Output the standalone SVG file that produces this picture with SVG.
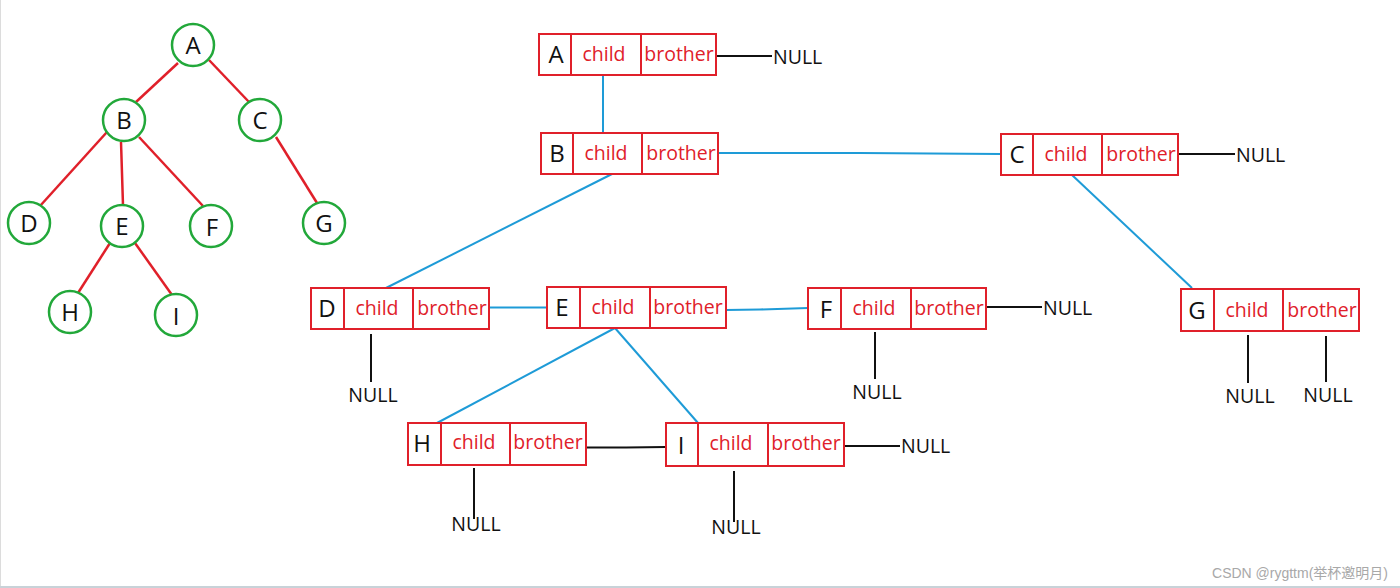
<svg xmlns="http://www.w3.org/2000/svg" width="1400" height="588" viewBox="0 0 1400 588">
<style>
.circ{fill:#fff;stroke:#22a83a;stroke-width:2.5}
.tl{font-family:"Open Sans","Noto Sans",sans-serif;font-size:24px;fill:#111;text-anchor:middle}
.te{stroke:#e0202a;stroke-width:2.5;fill:none}
.box{fill:#fff;stroke:#e0202a;stroke-width:2}
.lab{font-family:"Open Sans","Noto Sans",sans-serif;font-size:24px;fill:#111;text-anchor:middle}
.fld{font-family:"Open Sans","Noto Sans",sans-serif;font-size:19.5px;fill:#e0202a;text-anchor:middle}
.nul{font-family:"Open Sans","Noto Sans",sans-serif;font-size:19.5px;fill:#111}
.blue{stroke:#1e9bd7;stroke-width:2;fill:none}
.blk{stroke:#111;stroke-width:2;fill:none}
</style>
<rect width="1400" height="588" fill="#fff"/>
<line x1="0.5" y1="0" x2="0.5" y2="588" stroke="#dcdcdc" stroke-width="1"/>
<line x1="0" y1="587" x2="1400" y2="587" stroke="#c8d2d8" stroke-width="2"/>

<g id="tree-edges">
<line class="te" x1="178" y1="63" x2="136" y2="102"/>
<line class="te" x1="209" y1="60" x2="249" y2="102"/>
<line class="te" x1="107" y1="132" x2="40" y2="206"/>
<line class="te" x1="121" y1="142" x2="123" y2="205"/>
<line class="te" x1="139" y1="137" x2="203" y2="206"/>
<line class="te" x1="276" y1="137" x2="317" y2="203"/>
<line class="te" x1="110" y1="243" x2="78" y2="293"/>
<line class="te" x1="135" y1="243" x2="172" y2="295"/>
</g>
<g id="tree-A"><circle class="circ" cx="193" cy="45" r="21"/><text class="tl" x="193" y="54">A</text></g>
<g id="tree-B"><circle class="circ" cx="124" cy="120" r="21"/><text class="tl" x="124" y="129">B</text></g>
<g id="tree-C"><circle class="circ" cx="260" cy="120" r="21"/><text class="tl" x="260" y="129">C</text></g>
<g id="tree-D"><circle class="circ" cx="29" cy="223" r="21"/><text class="tl" x="29" y="232">D</text></g>
<g id="tree-E"><circle class="circ" cx="122" cy="226" r="21"/><text class="tl" x="122" y="235">E</text></g>
<g id="tree-F"><circle class="circ" cx="211" cy="226" r="21"/><text class="tl" x="212" y="236">F</text></g>
<g id="tree-G"><circle class="circ" cx="324" cy="223" r="21"/><text class="tl" x="324" y="232">G</text></g>
<g id="tree-H"><circle class="circ" cx="70" cy="312" r="21"/><text class="tl" x="70" y="321">H</text></g>
<g id="tree-I"><circle class="circ" cx="176" cy="315" r="21"/><text class="tl" x="176" y="325">I</text></g>

<g id="connectors">
<line class="blue" x1="603" y1="75" x2="603" y2="133"/>
<polyline class="blue" points="718,153 860,153 1001,154"/>
<line class="blue" x1="612" y1="174" x2="386" y2="288"/>
<line class="blue" x1="1072" y1="175" x2="1192" y2="288"/>
<line class="blue" x1="489" y1="307.5" x2="547" y2="307.5"/>
<polyline class="blue" points="726,310 760,309.5 808,308"/>
<line class="blue" x1="615" y1="328" x2="437" y2="423"/>
<line class="blue" x1="615" y1="328" x2="698" y2="423"/>
<line class="blk" x1="716" y1="56" x2="772" y2="56"/>
<line class="blk" x1="1178" y1="154" x2="1235" y2="154"/>
<line class="blk" x1="986" y1="307" x2="1042" y2="307"/>
<line class="blk" x1="371" y1="334" x2="371" y2="382"/>
<line class="blk" x1="875" y1="332" x2="875" y2="379"/>
<line class="blk" x1="1248" y1="335" x2="1248" y2="383"/>
<line class="blk" x1="1326" y1="336" x2="1326" y2="382"/>
<polyline class="blk" points="586,447.5 626,447.5 666,447"/>
<line class="blk" x1="844" y1="446" x2="900" y2="446"/>
<line class="blk" x1="474" y1="468" x2="474" y2="519"/>
<line class="blk" x1="734" y1="471" x2="734" y2="522"/>
<text class="nul" x="773" y="64">NULL</text>
<text class="nul" x="1236" y="162">NULL</text>
<text class="nul" x="1043" y="315">NULL</text>
<text class="nul" x="373" y="402" text-anchor="middle">NULL</text>
<text class="nul" x="877" y="399" text-anchor="middle">NULL</text>
<text class="nul" x="1250" y="403" text-anchor="middle">NULL</text>
<text class="nul" x="1328" y="402" text-anchor="middle">NULL</text>
<text class="nul" x="901" y="453">NULL</text>
<text class="nul" x="476" y="531" text-anchor="middle">NULL</text>
<text class="nul" x="736" y="534" text-anchor="middle">NULL</text>
</g>

<g id="node-A">
<rect class="box" x="539" y="34" width="177" height="41"/>
<line class="box" x1="571" y1="34" x2="571" y2="75"/><line class="box" x1="641" y1="34" x2="641" y2="75"/>
<text class="lab" x="556" y="63">A</text><text class="fld" x="604" y="61">child</text><text class="fld" x="679" y="61">brother</text>
</g>
<g id="node-B">
<rect class="box" x="541" y="133" width="177" height="41"/>
<line class="box" x1="573" y1="133" x2="573" y2="174"/><line class="box" x1="642" y1="133" x2="642" y2="174"/>
<text class="lab" x="557" y="162">B</text><text class="fld" x="606" y="160">child</text><text class="fld" x="681" y="160">brother</text>
</g>
<g id="node-C">
<rect class="box" x="1001" y="134" width="177" height="41"/>
<line class="box" x1="1033" y1="134" x2="1033" y2="175"/><line class="box" x1="1102" y1="134" x2="1102" y2="175"/>
<text class="lab" x="1017" y="163">C</text><text class="fld" x="1066" y="161">child</text><text class="fld" x="1141" y="161">brother</text>
</g>
<g id="node-D">
<rect class="box" x="311" y="288" width="178" height="41"/>
<line class="box" x1="344" y1="288" x2="344" y2="329"/><line class="box" x1="413" y1="288" x2="413" y2="329"/>
<text class="lab" x="327" y="317">D</text><text class="fld" x="377" y="315">child</text><text class="fld" x="452" y="315">brother</text>
</g>
<g id="node-E">
<rect class="box" x="547" y="287" width="179" height="41"/>
<line class="box" x1="580" y1="287" x2="580" y2="328"/><line class="box" x1="650" y1="287" x2="650" y2="328"/>
<text class="lab" x="562" y="316">E</text><text class="fld" x="613" y="314">child</text><text class="fld" x="688" y="314">brother</text>
</g>
<g id="node-F">
<rect class="box" x="808" y="288" width="178" height="41"/>
<line class="box" x1="841" y1="288" x2="841" y2="329"/><line class="box" x1="911" y1="288" x2="911" y2="329"/>
<text class="lab" x="826" y="318">F</text><text class="fld" x="874" y="315">child</text><text class="fld" x="949" y="315">brother</text>
</g>
<g id="node-G">
<rect class="box" x="1181" y="289" width="178" height="42"/>
<line class="box" x1="1214" y1="289" x2="1214" y2="331"/><line class="box" x1="1283" y1="289" x2="1283" y2="331"/>
<text class="lab" x="1197" y="319">G</text><text class="fld" x="1247" y="317">child</text><text class="fld" x="1322" y="317">brother</text>
</g>
<g id="node-H">
<rect class="box" x="408" y="423" width="178" height="42"/>
<line class="box" x1="441" y1="423" x2="441" y2="465"/><line class="box" x1="510" y1="423" x2="510" y2="465"/>
<text class="lab" x="422" y="452">H</text><text class="fld" x="474" y="449">child</text><text class="fld" x="548" y="449">brother</text>
</g>
<g id="node-I">
<rect class="box" x="666" y="423" width="178" height="43"/>
<line class="box" x1="698" y1="423" x2="698" y2="466"/><line class="box" x1="768" y1="423" x2="768" y2="466"/>
<text class="lab" x="681" y="454">I</text><text class="fld" x="731" y="450">child</text><text class="fld" x="806" y="450">brother</text>
</g>

<text x="1388" y="578" text-anchor="end" font-family="'Liberation Sans','Noto Sans CJK SC',sans-serif" font-size="14" fill="#a8a8a8">CSDN @rygttm(举杯邀明月)</text>
</svg>
